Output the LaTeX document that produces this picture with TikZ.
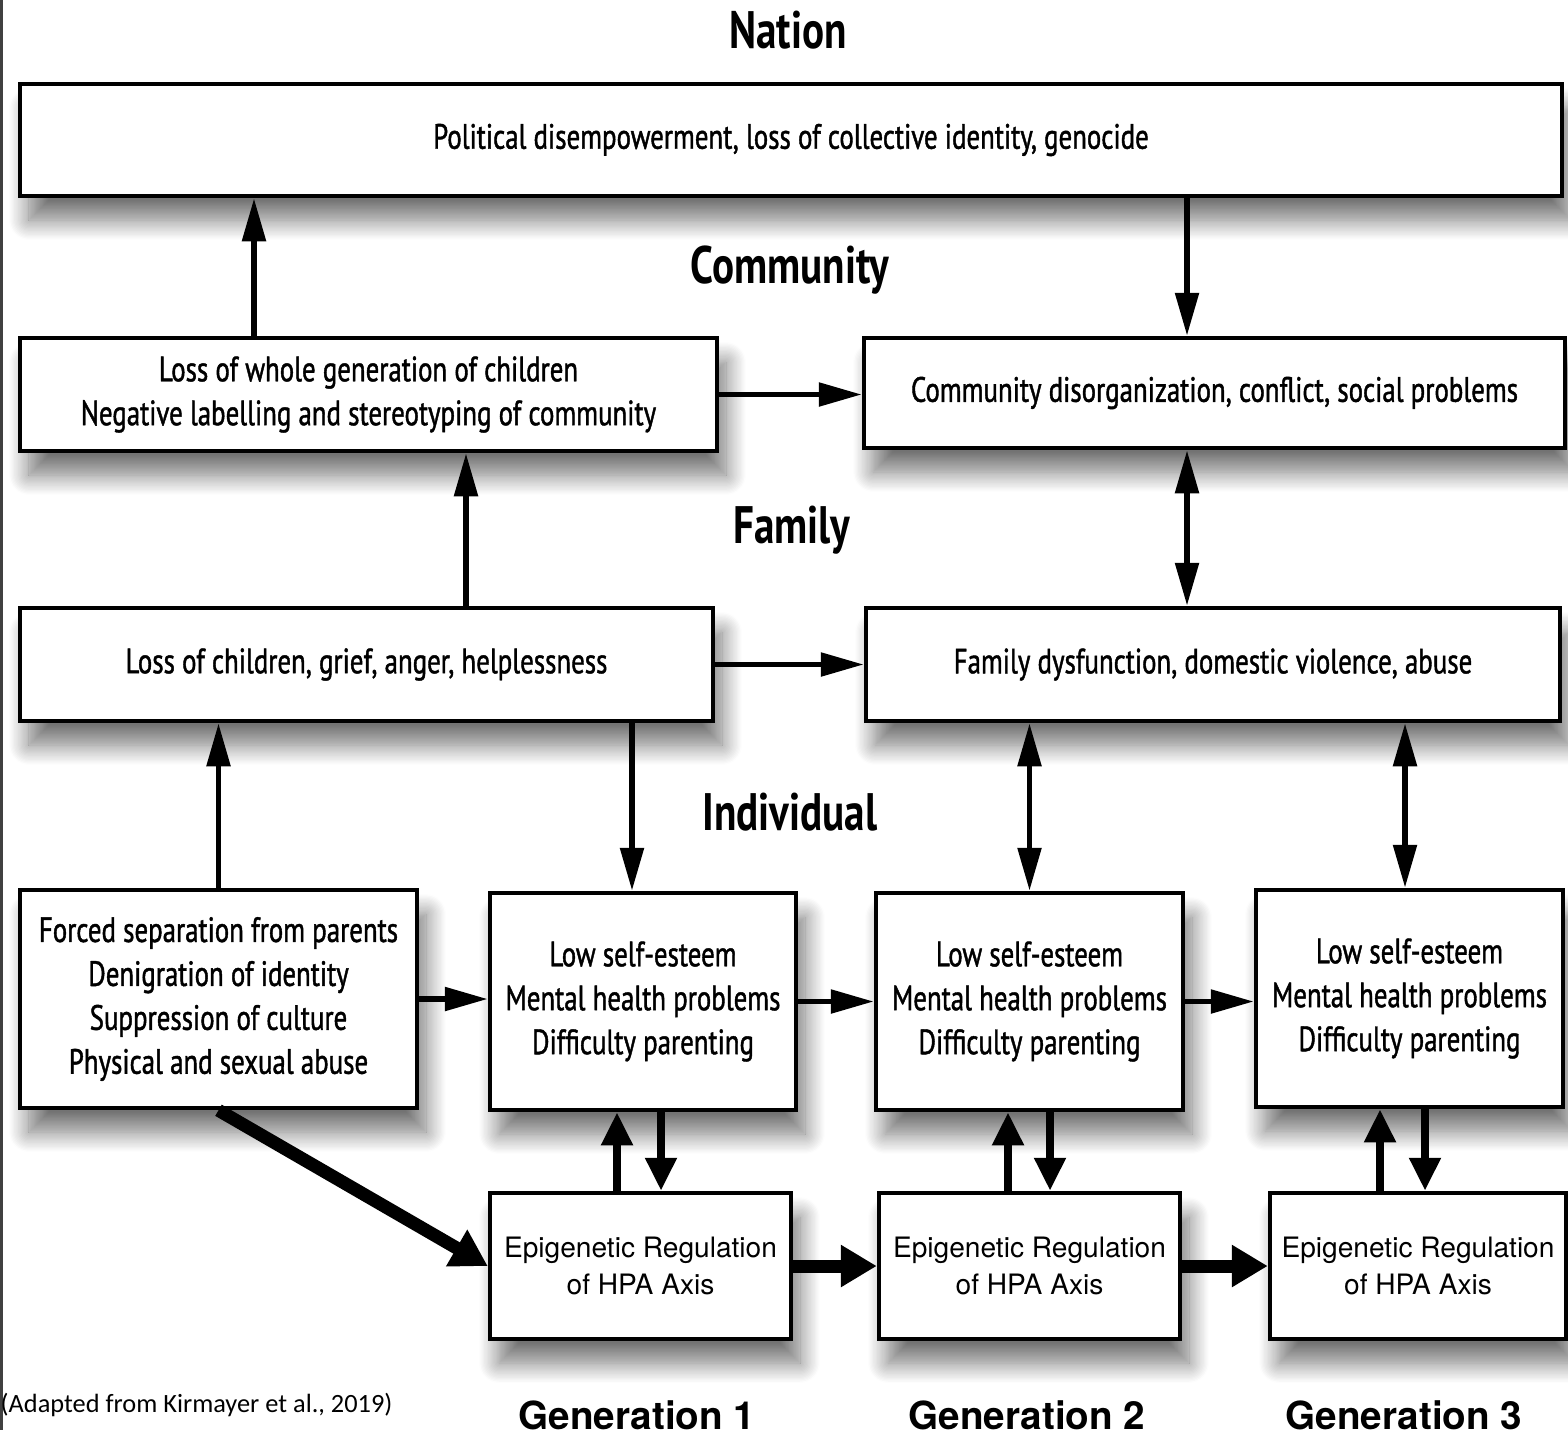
\documentclass[tikz,border=0pt]{standalone}
\usepackage{fontspec}
\usetikzlibrary{arrows.meta,shadows.blur}
\newfontfamily\boxfont[FakeStretch=0.765,FakeBold=1.2]{PT Sans}
\newfontfamily\headfont[FakeStretch=0.78]{PT Sans}
\newfontfamily\epifont{TeX Gyre Heros}
\newfontfamily\notefont{Carlito}

\begin{document}
\begin{tikzpicture}[
        box/.style = {draw, line width=0.45mm, fill=white, rectangle, inner sep=0pt, align=center,
            font=\boxfont\fontsize{10}{12.5}\selectfont,
            blur shadow={shadow xshift=0.9mm, shadow yshift=-2.4mm, shadow blur radius=2mm,
                shadow blur steps=16, shadow opacity=55}},
        epibox/.style = {box, font=\epifont\fontsize{8}{10.5}\selectfont},
        level/.style = {font=\headfont\bfseries\fontsize{15}{18}\selectfont},
        gen/.style = {font=\epifont\bfseries\fontsize{11}{13}\selectfont},
        arr/.style = {line width=0.55mm, -{Triangle[length=4.3mm, width=2.3mm]}},
        dbl/.style = {line width=0.55mm, {Triangle[length=4.3mm, width=2.3mm]}-{Triangle[length=4.3mm, width=2.3mm]}},
        short/.style = {line width=0.8mm, -{Triangle[length=3.3mm, width=3mm]}},
        fat/.style = {line width=1.3mm, -{Triangle[length=3.6mm, width=4mm]}}
    ]
        \useasboundingbox (0,0) rectangle (15.68,-14.4);
        \fill[black!75] (0,0) rectangle (0.03,-14.3);

        \node[level] (nation) at (7.88,-0.30) {Nation};
        \node[level] (community) at (7.90,-2.70) {Community};
        \node[level] (family) at (7.92,-5.30) {Family};
        \node[level] (individual) at (7.90,-8.12) {Individual};

        \node[box, minimum width=15.42cm, minimum height=1.12cm] (nat) at (7.91,-1.40)
            {Political disempowerment, loss of collective identity, genocide};
        \node[box, minimum width=6.97cm, minimum height=1.13cm] (comL) at (3.685,-3.945)
            {Loss of whole generation of children\\Negative labelling and stereotyping of community};
        \node[box, minimum width=7.01cm, minimum height=1.10cm] (comR) at (12.145,-3.93)
            {Community disorganization, conflict, social problems};
        \node[box, minimum width=6.93cm, minimum height=1.13cm] (famL) at (3.665,-6.645)
            {Loss of children, grief, anger, helplessness};
        \node[box, minimum width=6.94cm, minimum height=1.13cm] (famR) at (12.13,-6.645)
            {Family dysfunction, domestic violence, abuse};
        \node[box, minimum width=3.97cm, minimum height=2.18cm] (forced) at (2.185,-9.99)
            {Forced separation from parents\\Denigration of identity\\Suppression of culture\\Physical and sexual abuse};
        \node[box, minimum width=3.06cm, minimum height=2.17cm] (g1) at (6.43,-10.015)
            {Low self-esteem\\Mental health problems\\Difficulty parenting};
        \node[box, minimum width=3.07cm, minimum height=2.17cm] (g2) at (10.295,-10.015)
            {Low self-esteem\\Mental health problems\\Difficulty parenting};
        \node[box, minimum width=3.07cm, minimum height=2.17cm] (g3) at (14.095,-9.985)
            {Low self-esteem\\Mental health problems\\Difficulty parenting};
        \node[epibox, minimum width=3.01cm, minimum height=1.46cm] (e1) at (6.405,-12.66)
            {Epigenetic Regulation\\of HPA Axis};
        \node[epibox, minimum width=3.01cm, minimum height=1.46cm] (e2) at (10.295,-12.66)
            {Epigenetic Regulation\\of HPA Axis};
        \node[epibox, minimum width=2.96cm, minimum height=1.46cm] (e3) at (14.18,-12.66)
            {Epigenetic Regulation\\of HPA Axis};

        \node[gen] (gen1) at (6.37,-14.15) {Generation 1};
        \node[gen] (gen2) at (10.27,-14.15) {Generation 2};
        \node[gen] (gen3) at (14.04,-14.15) {Generation 3};
        \node[anchor=west, inner sep=0pt, font=\notefont\fontsize{7.5}{9}\selectfont] (source) at (0.0,-14.05)
            {(Adapted from Kirmayer et al., 2019)};

        \coordinate (up1) at ([xshift=-11.45mm]comL.north);
        \coordinate (dn1) at ([xshift=-2.75mm]comR.north);
        \coordinate (up2) at ([xshift=9.95mm]famL.north);
        \coordinate (dd1) at ([xshift=-2.6mm]famR.north);
        \coordinate (dn2) at ([xshift=-1.1mm]g1.north);
        \coordinate (dd3) at ([xshift=-0.45mm]g3.north);

        \draw[arr] (up1) -- (up1 |- nat.south);
        \draw[arr] (dn1 |- nat.south) -- (dn1);
        \draw[arr] (comL.east) -- (comL.east -| comR.west);
        \draw[arr] (up2) -- (up2 |- comL.south);
        \draw[dbl] (dd1) -- (dd1 |- comR.south);
        \draw[arr] (famL.east) -- (famL.east -| famR.west);
        \draw[arr] (forced.north) -- (forced.north |- famL.south);
        \draw[arr] (dn2 |- famL.south) -- (dn2);
        \draw[dbl] (g2.north) -- (g2.north |- famR.south);
        \draw[dbl] (dd3) -- (dd3 |- famR.south);
        \draw[arr] (forced.east) -- (forced.east -| g1.west);
        \draw[arr] (g1.east) -- (g1.east -| g2.west);
        \draw[arr] (g2.east) -- (g2.east -| g3.west);

        \draw[short] ([xshift=-2.35mm]e1.north) -- ([xshift=-2.35mm]e1.north |- g1.south);
        \draw[short] ([xshift=2.05mm]e1.north |- g1.south) -- ([xshift=2.05mm]e1.north);
        \draw[short] ([xshift=-2.15mm]e2.north) -- ([xshift=-2.15mm]e2.north |- g2.south);
        \draw[short] ([xshift=2.05mm]e2.north |- g2.south) -- ([xshift=2.05mm]e2.north);
        \draw[short] ([xshift=-3.8mm]e3.north) -- ([xshift=-3.8mm]e3.north |- g3.south);
        \draw[short] ([xshift=0.7mm]e3.north |- g3.south) -- ([xshift=0.7mm]e3.north);

        \draw[fat] (e1.east) -- (e2.west);
        \draw[fat] (e2.east) -- (e3.west);
        \draw[fat] (forced.south) -- (e1.west);
    \end{tikzpicture}
\end{document}
